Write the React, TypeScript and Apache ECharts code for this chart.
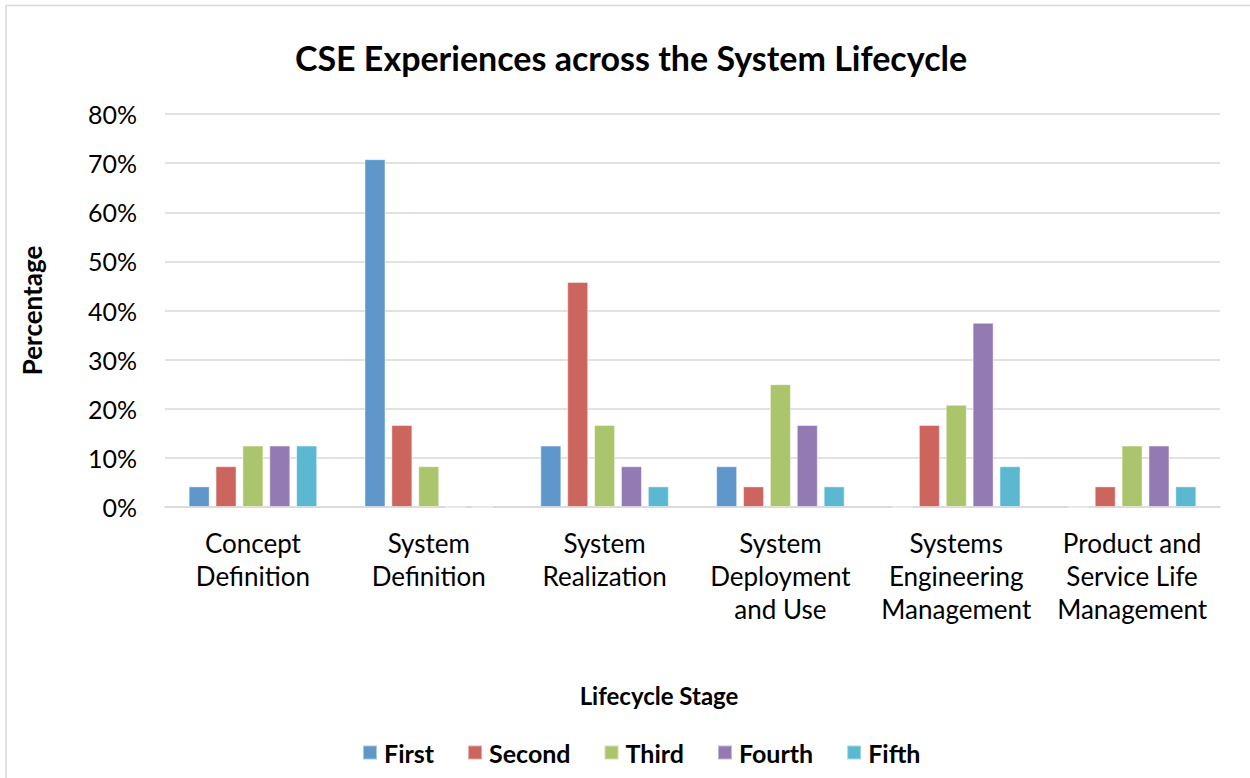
import React, { useEffect, useRef } from "react";
import * as echarts from "echarts";

const categories = [
  "Concept\nDefinition",
  "System\nDefinition",
  "System\nRealization",
  "System\nDeployment\nand Use",
  "Systems\nEngineering\nManagement",
  "Product and\nService Life\nManagement",
];
const seriesNames = ["First", "Second", "Third", "Fourth", "Fifth"];
const first = [4.2, 70.8, 12.5, 8.3, 0, 0];
const second = [8.3, 16.7, 45.8, 4.2, 16.7, 4.2];
const third = [12.5, 8.3, 16.7, 25.0, 20.8, 12.5];
const fourth = [12.5, 0, 8.3, 16.7, 37.5, 12.5];
const fifth = [12.5, 0, 4.2, 4.2, 8.3, 4.2];
const colors = ["#5f97cb", "#cd655f", "#abc56c", "#937ab2", "#5cb8d1"];
const yTicks = [0, 10, 20, 30, 40, 50, 60, 70, 80];

const FONT = "Lato, 'Open Sans', sans-serif";

export default function App() {
  const ref = useRef<HTMLDivElement>(null);
  useEffect(() => {
    if (!ref.current) return;
    const chart = echarts.init(ref.current, undefined, { renderer: "svg" });
    const values = [first, second, third, fourth, fifth];
    chart.setOption({
      animation: false,
      backgroundColor: "#ffffff",
      textStyle: { fontFamily: FONT },
      graphic: [
        {
          type: "polyline",
          shape: { points: [[6, 800], [6, 5.5], [1250, 5.5]] },
          style: { stroke: "#d9d9d9", lineWidth: 1.5, fill: "none" },
          silent: true,
        },
        {
          type: "text",
          x: 631,
          y: 57,
          style: {
            text: "CSE Experiences across the System Lifecycle",
            fontFamily: FONT,
            fontSize: 34,
            fontWeight: "bold",
            fill: "#000",
            textAlign: "center",
            textVerticalAlign: "middle",
          },
        },
        {
          type: "text",
          x: 659,
          y: 695,
          style: {
            text: "Lifecycle Stage",
            fontFamily: FONT,
            fontSize: 24,
            fontWeight: "bold",
            fill: "#000",
            textAlign: "center",
            textVerticalAlign: "middle",
          },
        },
      ],
      legend: {
        data: seriesNames,
        left: 357,
        top: 735,
        itemWidth: 14,
        itemHeight: 14,
        itemGap: 33,
        icon: "rect",
        textStyle: { fontFamily: FONT, fontSize: 25, fontWeight: "bold", color: "#000", padding: [0, 0, 0, 2] },
      },
      grid: { left: 165, right: 30, top: 114, bottom: 271 },
      xAxis: {
        type: "category",
        data: categories,
        axisLine: { lineStyle: { color: "#d9d9d9", width: 1.5 } },
        axisTick: { show: false },
        axisLabel: {
          fontFamily: FONT,
          fontSize: 26,
          color: "#000",
          lineHeight: 33,
          margin: 19,
          interval: 0,
        },
      },
      yAxis: {
        type: "value",
        min: 0,
        max: 80,
        interval: 10,
        name: "Percentage",
        nameLocation: "middle",
        nameGap: 120,
        nameTextStyle: { fontFamily: FONT, fontSize: 26, fontWeight: "bold", color: "#000" },
        axisLine: { show: false },
        axisTick: { show: false },
        splitLine: { lineStyle: { color: "#d9d9d9", width: 1.5 } },
        axisLabel: {
          fontFamily: FONT,
          fontSize: 25,
          color: "#000",
          margin: 28,
          formatter: (v: number) => (yTicks.includes(v) ? `${v}%` : ""),
        },
      },
      series: seriesNames.map((name, i) => ({
        name,
        type: "bar",
        data: values[i],
        barWidth: 21,
        barGap: "28%",
        itemStyle: { color: colors[i], borderColor: "rgba(255,255,255,0.45)", borderWidth: 1 },
      })),
    });
    return () => chart.dispose();
  }, []);
  return (
    <div
      ref={ref}
      style={{ position: "fixed", left: 0, top: 0, width: 1250, height: 778 }}
    />
  );
}
